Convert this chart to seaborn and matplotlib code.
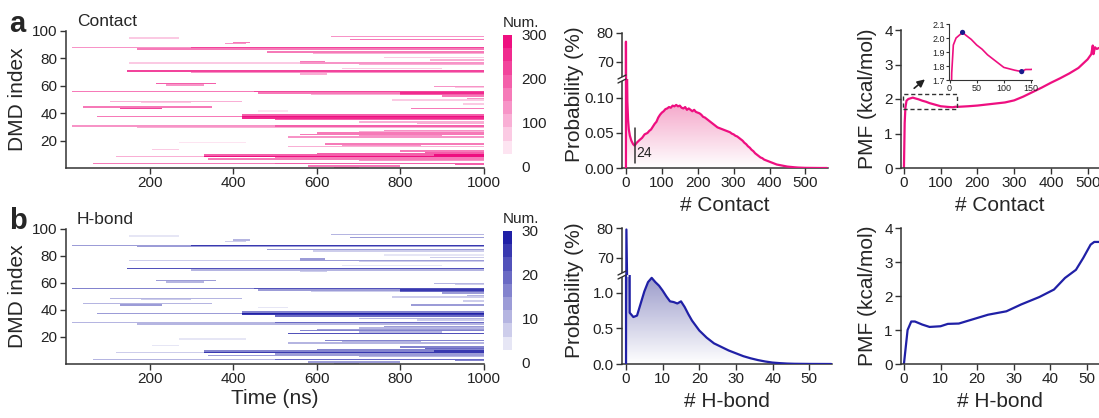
import numpy as np
import pandas as pd
import matplotlib
matplotlib.use("Agg")
import matplotlib.pyplot as plt
import seaborn as sns
from matplotlib.colors import ListedColormap, LinearSegmentedColormap, to_rgb
from matplotlib.patches import Polygon, Rectangle
from matplotlib.lines import Line2D

# ---------------- data ----------------
# heat-map bands: DMD index, start/end time (ns), level
seg_row = [96, 95, 94, 92, 91, 88, 88, 87, 85, 84, 81, 79, 78, 77, 77, 76, 73, 71, 70, 69,
           62, 61, 60, 59, 56, 56, 55, 55, 54, 54, 53, 51, 50, 49, 48, 47, 45, 44, 44, 42,
           39, 38, 38, 37, 36, 34, 33, 31, 31, 30, 28, 27, 26, 25, 24, 23, 19, 18, 17, 16,
           14, 13, 12, 11, 10, 10, 9, 9, 8, 7, 6, 4, 4, 3, 2, 1]
seg_start = [635, 150, 680, 400, 380, 15, 300, 170, 480, 590, 760, 870, 560, 150, 560, 700, 660, 146, 300, 560,
             217, 240, 880, 930, 15, 450, 460, 800, 586, 800, 900, 960, 780, 107, 180, 950, 40, 130, 826, 460,
             420, 78, 420, 420, 500, 700, 840, 17, 500, 170, 760, 700, 600, 560, 700, 530, 270, 620, 660, 530,
             205, 800, 860, 600, 330, 880, 120, 330, 500, 340, 700, 67, 500, 930, 580, 640]
seg_end = [1000, 270, 1000, 440, 430, 300, 1000, 1000, 1000, 1000, 1000, 1000, 620, 560, 1000, 1000, 900, 1000, 1000, 625,
           360, 330, 1000, 1000, 450, 1000, 800, 1000, 800, 1000, 1000, 1000, 1000, 418, 300, 1000, 350, 230, 1000, 530,
           1000, 420, 1000, 1000, 1000, 1000, 1000, 500, 1000, 1000, 1000, 1000, 1000, 1000, 900, 1000, 430, 1000, 850, 1000,
           270, 1000, 1000, 1000, 880, 1000, 330, 1000, 1000, 1000, 1000, 500, 1000, 1000, 800, 700]
seg_contact = [120, 60, 170, 150, 120, 130, 230, 160, 150, 100, 70, 90, 170, 80, 140, 90, 60, 230, 130, 100,
               180, 120, 130, 80, 170, 220, 150, 250, 110, 200, 150, 120, 80, 110, 80, 80, 150, 220, 150, 40,
               190, 170, 270, 250, 190, 100, 90, 140, 180, 110, 130, 100, 150, 170, 120, 140, 50, 160, 120, 110,
               70, 170, 200, 200, 180, 270, 100, 270, 160, 160, 130, 150, 200, 180, 150, 120]
seg_hbond = [10, 4, 13, 10, 8, 12, 24, 14, 12, 8, 5, 7, 12, 6, 12, 7, 5, 22, 11, 6,
             14, 9, 9, 6, 16, 22, 12, 24, 8, 20, 12, 10, 6, 9, 6, 6, 9, 12, 14, 3,
             17, 14, 27, 24, 18, 9, 8, 11, 19, 9, 12, 9, 13, 16, 10, 22, 4, 15, 11, 10,
             5, 15, 18, 17, 16, 26, 8, 25, 14, 14, 11, 11, 18, 16, 12, 10]

time_ticks = [200, 400, 600, 800, 1000]
index_ticks = [20, 40, 60, 80, 100]
contact_cbar_ticks = [0, 100, 200, 300]
hbond_cbar_ticks = [0, 10, 20, 30]

prob_contact_x = [0, 0, 1, 2, 3, 4, 6, 8, 11, 15, 20, 24, 30, 38, 45, 52,
                  60, 65, 70, 75, 80, 85, 90, 95, 100, 105, 110, 115, 120, 125, 130, 135,
                  140, 145, 150, 155, 160, 165, 170, 175, 180, 185, 190, 195, 200, 205, 210,
                  215, 220, 225, 230, 235, 240, 245, 250, 255, 260, 265, 270, 275, 280, 285,
                  290, 295, 300, 305, 310, 315, 320, 325, 330, 335, 340, 345, 350, 355, 360,
                  365, 370, 375, 380, 385, 390, 395, 400, 410, 420, 430, 440, 450, 460, 470,
                  480, 490, 500, 520, 540, 560]
prob_contact_y = [0, 77.0, 3.0, 0.4, 0.14, 0.095, 0.068, 0.055, 0.046, 0.039, 0.034, 0.032,
                  0.036, 0.040, 0.043, 0.048,
                  0.050, 0.053, 0.055, 0.059, 0.063, 0.066, 0.072, 0.076, 0.079, 0.081, 0.084,
                  0.085, 0.087, 0.086, 0.089, 0.088, 0.090, 0.088, 0.089, 0.086, 0.085, 0.087,
                  0.083, 0.085, 0.083, 0.081, 0.083, 0.080, 0.079, 0.078, 0.076, 0.073, 0.072,
                  0.070, 0.068, 0.066, 0.064, 0.062, 0.060, 0.058, 0.057, 0.056, 0.055, 0.054,
                  0.053, 0.052, 0.051, 0.049, 0.048, 0.046, 0.045, 0.043, 0.041, 0.039, 0.036,
                  0.034, 0.031, 0.029, 0.026, 0.024, 0.021, 0.019, 0.017, 0.015, 0.014, 0.012,
                  0.011, 0.010, 0.009, 0.007, 0.005, 0.004, 0.003, 0.002, 0.0015, 0.001,
                  0.0006, 0.0004, 0.0002, 0.0001, 0.0, 0.0]

prob_hbond_x = [0, 0.1, 1, 2, 3, 4, 5, 6, 7, 8, 9, 10, 11, 12, 13, 14, 15, 16, 17, 18, 19, 20,
                22, 24, 26, 28, 30, 32, 34, 36, 38, 40, 42, 44, 46, 50, 56]
prob_hbond_y = [0, 79.5, 0.72, 0.66, 0.68, 0.85, 1.02, 1.15, 1.21, 1.15, 1.10, 1.03, 0.95,
                0.88, 0.87, 0.85, 0.88, 0.80, 0.70, 0.61, 0.54, 0.47, 0.37, 0.29, 0.24, 0.19,
                0.15, 0.11, 0.08, 0.055, 0.035, 0.02, 0.012, 0.006, 0.003, 0.001, 0.0]

pmf_contact_x = [0, 2, 4, 7, 12, 18, 24, 30, 40, 50, 60, 70, 80, 90, 100, 110, 120, 133, 140,
                 150, 175, 200, 225, 250, 275, 300, 325, 350, 375, 400, 425, 450, 475, 490,
                 500, 510, 514, 516, 520, 525, 531]
pmf_contact_y = [0, 1.3, 1.75, 1.95, 2.0, 2.02, 2.04, 2.02, 1.99, 1.95, 1.92, 1.88, 1.85, 1.82,
                 1.79, 1.78, 1.77, 1.76, 1.775, 1.775, 1.79, 1.81, 1.84, 1.87, 1.90, 1.96, 2.07,
                 2.20, 2.33, 2.47, 2.60, 2.74, 2.90, 3.05, 3.15, 3.30, 3.55, 3.30, 3.50, 3.45, 3.48]
pmf_marks_x = [24, 133]
pmf_marks_y = [2.04, 1.76]

pmf_hbond_x = [0, 1, 2, 3, 5, 7, 10, 12, 15, 19, 23, 28, 32, 37, 41, 44, 47, 49, 51, 52, 54]
pmf_hbond_y = [0, 1.0, 1.25, 1.25, 1.16, 1.09, 1.11, 1.18, 1.19, 1.32, 1.45, 1.55, 1.75, 1.97,
               2.19, 2.53, 2.77, 3.12, 3.51, 3.59, 3.59]

# ---------------- style ----------------
sns.set_style("ticks")
plt.rcParams['font.family'] = ['Liberation Sans', 'DejaVu Sans']
plt.rcParams['axes.edgecolor'] = '#333333'
plt.rcParams['axes.linewidth'] = 1.1
plt.rcParams['xtick.color'] = '#333333'
plt.rcParams['ytick.color'] = '#333333'
plt.rcParams['xtick.labelcolor'] = '#222222'
plt.rcParams['ytick.labelcolor'] = '#222222'

PINK = '#EE0F80'
BLUE = '#2020A6'
TICK = 11
LAB = 15

W, H = 1099, 418
fig = plt.figure(figsize=(W / 100, H / 100), dpi=100)


def fr(x0, y0, x1, y1):
    return [x0 / W, 1 - y1 / H, (x1 - x0) / W, (y1 - y0) / H]


n_rows = 100
bin_ns = 5
n_bins = 1000 // bin_ns


def build(levels):
    m = np.zeros((n_rows, n_bins))
    for r, s, e, v in zip(seg_row, seg_start, seg_end, levels):
        m[r - 1, int(s // bin_ns):int(np.ceil(e / bin_ns))] = v
    return pd.DataFrame(m)


def discrete_cmap(color, n=10):
    c = np.array(to_rgb(color))
    w = np.ones(3)
    cols = [tuple(np.clip(w + (c - w) * (i / (n - 1)), 0, 1)) for i in range(n)]
    return ListedColormap(cols)


def style_ticks(ax, size=TICK, length=4):
    ax.tick_params(direction='out', length=length, width=1, labelsize=size, pad=2)


def heat(box, cbox, df, color, vmax, ticks, title, letter, xlabel):
    ax = fig.add_axes(fr(*box))
    cax = fig.add_axes(fr(*cbox))
    sns.heatmap(df, ax=ax, cbar_ax=cax, cmap=discrete_cmap(color), vmin=0, vmax=vmax,
                xticklabels=False, yticklabels=False, linewidths=0, linecolor='none',
                antialiased=True)
    ax.set_xlim(0, n_bins)
    ax.set_ylim(0, n_rows)
    ax.set_xticks([t / bin_ns for t in time_ticks])
    ax.set_xticklabels([str(t) for t in time_ticks])
    ax.set_yticks(index_ticks)
    ax.set_yticklabels([str(t) for t in index_ticks])
    for s in ['left', 'bottom']:
        ax.spines[s].set_visible(True)
    for s in ['top', 'right']:
        ax.spines[s].set_visible(False)
    style_ticks(ax)
    ax.set_ylabel('DMD index', fontsize=LAB, labelpad=4)
    if xlabel:
        ax.set_xlabel(xlabel, fontsize=LAB, labelpad=2)
    else:
        ax.set_xlabel('')
    ax.text(0.026, 1.065, title, transform=ax.transAxes, fontsize=12.5, va='center', ha='left')
    fig.text(9 / W, 1 - (box[1] - 7) / H, letter, fontsize=21, fontweight='bold', va='center')
    cb = ax.collections[0].colorbar
    cb.outline.set_visible(False)
    cb.set_ticks(ticks)
    cb.set_ticklabels([str(t) for t in ticks])
    cax.tick_params(length=0, labelsize=TICK, pad=7)
    fig.text(cbox[0] / W, 1 - (cbox[1] - 12) / H, 'Num.', fontsize=11, va='center', ha='left')
    return ax


heat((66, 30.6, 484, 168), (503, 35, 512, 167), build(seg_contact), PINK, 300,
     contact_cbar_ticks, 'Contact', 'a', None)
heat((66, 228.5, 484, 364), (503, 231, 512, 363), build(seg_hbond), BLUE, 30,
     hbond_cbar_ticks, 'H-bond', 'b', 'Time (ns)')


def gradient_fill(ax, xs, ys, top_color, ytop):
    cm = LinearSegmentedColormap.from_list('g', ['white', top_color])
    grad = np.linspace(0, 1, 256).reshape(-1, 1)
    x0, x1 = min(xs), max(xs)
    im = ax.imshow(grad, extent=[x0, x1, 0, ytop], origin='lower', aspect='auto', cmap=cm,
                   vmin=0, vmax=1, zorder=1)
    pts = [(x0, 0)] + list(zip(xs, ys)) + [(x1, 0)]
    poly = Polygon(pts, closed=True, facecolor='none', edgecolor='none')
    ax.add_patch(poly)
    im.set_clip_path(poly)


def break_mark(xpix, ypix):
    fig.add_artist(Rectangle(((xpix - 3) / W, 1 - (ypix + 2) / H), 6 / W, 4 / H,
                             transform=fig.transFigure, facecolor='white', edgecolor='none', zorder=10))
    for dy in (-2, 2):
        fig.add_artist(Line2D([(xpix - 4) / W, (xpix + 4) / W],
                              [1 - (ypix + dy + 2) / H, 1 - (ypix + dy - 2) / H],
                              transform=fig.transFigure, color='#333333', lw=1, zorder=11))


def prob_panel(x0, x1, ytop, ybreak, ybot, xs, ys, color, fillc, xlim, xticks, up_lim, lo_lim,
               lo_ticks, lo_labels, xlabel, peak):
    up = fig.add_axes(fr(x0, ytop, x1, ybreak))
    lo = fig.add_axes(fr(x0, ybreak, x1, ybot))
    for a in (up, lo):
        sns.lineplot(x=xs, y=ys, ax=a, color=color, lw=1.6, sort=False, estimator=None, zorder=3)
        a.set_xlim(*xlim)
        a.spines['right'].set_visible(False)
        a.spines['top'].set_visible(False)
        style_ticks(a)
        a.set_ylabel('')
    up.set_ylim(*up_lim)
    up.set_yticks([70, 80])
    up.set_yticklabels(['70', '80'])
    up.spines['bottom'].set_visible(False)
    up.set_xticks([])
    up.set_xlabel('')
    lo.set_ylim(*lo_lim)
    lo.set_yticks(lo_ticks)
    lo.set_yticklabels(lo_labels)
    lo.set_xticks(xticks)
    lo.set_xticklabels([str(t) for t in xticks])
    lo.set_xlabel(xlabel, fontsize=LAB, labelpad=4)
    gradient_fill(lo, xs, ys, fillc, peak)
    break_mark(x0, ybreak)
    fig.text(575 / W, 1 - ((ytop + ybot) / 2 - 6) / H, 'Probability (%)', rotation=90,
             fontsize=LAB, va='center', ha='center')
    return up, lo


up_a, lo_a = prob_panel(622, 828, 33, 79, 168, prob_contact_x, prob_contact_y, PINK, '#F5A9CB',
                        (-11, 563), [0, 100, 200, 300, 400, 500], (64.1, 80), (0, 0.127),
                        [0, 0.05, 0.10], ['0.00', '0.05', '0.10'], '# Contact', 0.09)
lo_a.plot([24, 24], [0.007, 0.057], color='#333333', lw=1.1, zorder=4)
lo_a.text(30, 0.021, '24', fontsize=10, va='center', ha='left', color='#222222')

prob_panel(622, 832, 228, 275, 364, prob_hbond_x, prob_hbond_y, BLUE, '#9C9CCB',
           (-1.1, 56.2), [0, 10, 20, 30, 40, 50], (64.3, 80), (0, 1.25),
           [0, 0.5, 1.0], ['0.0', '0.5', '1.0'], '# H-bond', 1.21)


def pmf_panel(box, xs, ys, color, xlim, xticks, xlabel):
    ax = fig.add_axes(fr(*box))
    sns.lineplot(x=xs, y=ys, ax=ax, color=color, lw=1.6, sort=False, estimator=None)
    ax.set_xlim(*xlim)
    ax.set_ylim(0, 4)
    ax.set_yticks([0, 1, 2, 3, 4])
    ax.set_yticklabels(['0', '1', '2', '3', '4'])
    ax.set_xticks(xticks)
    ax.set_xticklabels([str(t) for t in xticks])
    ax.spines['right'].set_visible(False)
    ax.spines['top'].set_visible(False)
    style_ticks(ax)
    ax.set_ylabel('PMF (kcal/mol)', fontsize=LAB, labelpad=5)
    ax.set_xlabel(xlabel, fontsize=LAB, labelpad=4)
    return ax


pa = pmf_panel((901, 30, 1099, 168), pmf_contact_x, pmf_contact_y, PINK, (-8, 531),
               [0, 100, 200, 300, 400, 500], '# Contact')
pa.add_patch(Rectangle((-3, 1.70), 148, 0.45, fill=False, ls=(0, (3, 2)), lw=1,
                       ec='#333333', clip_on=False, zorder=4))
pa.annotate('', xy=(63, 2.62), xytext=(22, 2.26),
            arrowprops=dict(arrowstyle='-|>', color='#222222', lw=1.2, mutation_scale=11))

ins = fig.add_axes(fr(949, 24, 1032, 80))
sns.lineplot(x=pmf_contact_x, y=pmf_contact_y, ax=ins, color=PINK, lw=1.2, sort=False,
             estimator=None)
sns.scatterplot(x=pmf_marks_x, y=pmf_marks_y, ax=ins, color='#1A1A8C', s=14, zorder=5,
                edgecolor='none')
ins.set_xlim(-1, 152)
ins.set_ylim(1.7, 2.1)
ins.set_xticks([0, 50, 100, 150])
ins.set_xticklabels(['0', '50', '100', '150'])
ins.set_yticks([1.7, 1.8, 1.9, 2.0, 2.1])
ins.set_yticklabels(['1.7', '1.8', '1.9', '2.0', '2.1'])
ins.spines['right'].set_visible(False)
ins.spines['top'].set_visible(False)
for s in ins.spines.values():
    s.set_linewidth(0.8)
ins.tick_params(direction='out', length=2, width=0.8, labelsize=6.5, pad=1)
ins.set_xlabel('')
ins.set_ylabel('')
ins.patch.set_alpha(0)

pmf_panel((901, 228, 1099, 364), pmf_hbond_x, pmf_hbond_y, BLUE, (-0.8, 53.3),
          [0, 10, 20, 30, 40, 50], '# H-bond')

fig.savefig('out.png', dpi=100)
